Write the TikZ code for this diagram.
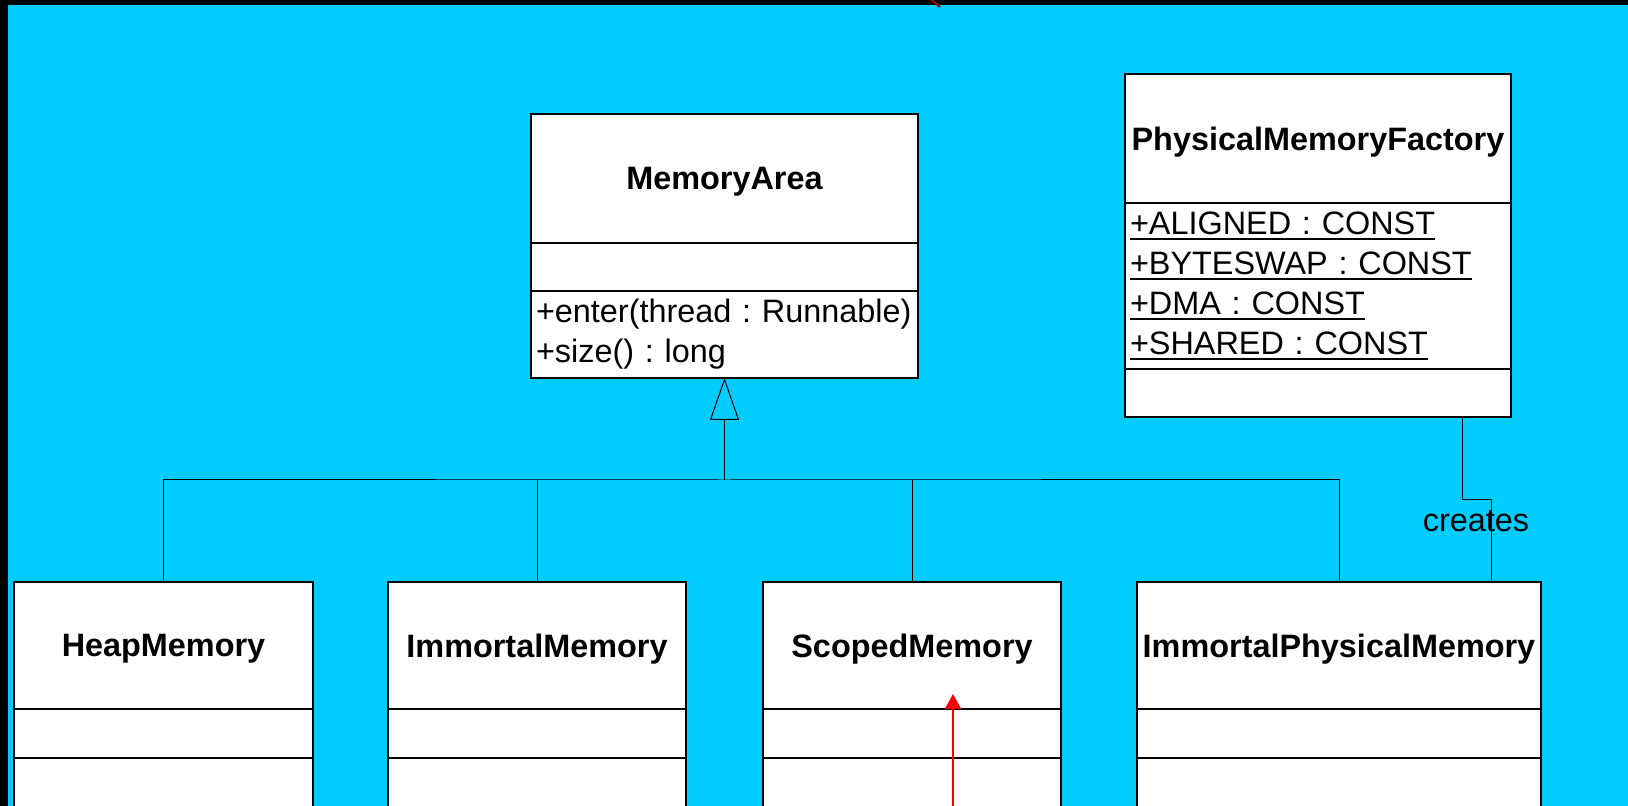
\documentclass[tikz,border=0pt]{standalone}
\usepackage{fontspec}
\setmainfont{Liberation Sans}
\usepackage{tikz}
\usetikzlibrary{arrows.meta, positioning}
\definecolor{slidecyan}{HTML}{00CCFF}
\definecolor{pinred}{HTML}{FF0000}
\frenchspacing

\newcommand{\umlsize}{\fontsize{16.2}{20}\selectfont}
\newcommand{\constline}[1]{\leavevmode\setbox0\hbox{#1}\rlap{\rule[-2.5pt]{\wd0}{1pt}}\box0}

\tikzset{
  classbox/.style={draw, fill=white, line width=1pt, inner sep=0pt, outer sep=0pt, anchor=north west},
  classname/.style={classbox, font=\bfseries\umlsize, text depth=0pt},
  classpart/.style={classbox, font=\umlsize\frenchspacing, align=left, inner xsep=2.5pt},
  inherit/.style={line width=0.5pt, -{Triangle[open, length=21pt, width=14.5pt]}},
  assoc/.style={line width=0.5pt},
  pointer/.style={pinred, line width=1pt, -{Triangle[length=7.5pt, width=8pt]}},
}

\begin{document}
\begin{tikzpicture}[x=0.5pt, y=-0.5pt]
            \useasboundingbox (0, 0) rectangle (1628, 806);
            \clip (0, 0) rectangle (1628, 806);
            \fill[black] (0, 0) rectangle (1628, 806);
            \fill[slidecyan] (8, 5) rectangle (1628, 806);

            \node[classname, minimum width=193.5pt, minimum height=64.5pt] at (531, 114) (ma) {MemoryArea};
            \node[classpart, minimum width=193.5pt, minimum height=24pt] at (ma.south west) (ma-attr) {};
            \node[classpart, minimum width=193.5pt, minimum height=43.5pt, text width=188.5pt] at (ma-attr.south west) (ma-ops) {+enter(thread : Runnable)\\+size() : long};

            \node[classname, minimum width=193pt, minimum height=64.5pt] at (1125, 74) (pmf) {PhysicalMemoryFactory};
            \node[classpart, minimum width=193pt, minimum height=83pt, text width=188pt] at (pmf.south west) (pmf-attr) {\constline{+ALIGNED : CONST}\\\constline{+BYTESWAP : CONST}\\\constline{+DMA : CONST}\\\constline{+SHARED : CONST}};
            \node[classpart, minimum width=193pt, minimum height=24pt] at (pmf-attr.south west) (pmf-ops) {};

            \node[classname, minimum width=149.5pt, minimum height=63.5pt] at (14, 582) (heap) {HeapMemory};
            \node[classpart, minimum width=149.5pt, minimum height=24.5pt] at (heap.south west) (heap-attr) {};
            \node[classpart, minimum width=149.5pt, minimum height=40pt] at (heap-attr.south west) (heap-ops) {};

            \node[classname, minimum width=149pt, minimum height=63.5pt] at (388, 582) (imm) {ImmortalMemory};
            \node[classpart, minimum width=149pt, minimum height=24.5pt] at (imm.south west) (imm-attr) {};
            \node[classpart, minimum width=149pt, minimum height=40pt] at (imm-attr.south west) (imm-ops) {};

            \node[classname, minimum width=149pt, minimum height=63.5pt] at (763, 582) (scm) {ScopedMemory};
            \node[classpart, minimum width=149pt, minimum height=24.5pt] at (scm.south west) (scm-attr) {};
            \node[classpart, minimum width=149pt, minimum height=40pt] at (scm-attr.south west) (scm-ops) {};

            \node[classname, minimum width=202pt, minimum height=63.5pt] at (1137, 582) (ipm) {ImmortalPhysicalMemory};
            \node[classpart, minimum width=202pt, minimum height=24.5pt] at (ipm.south west) (ipm-attr) {};
            \node[classpart, minimum width=202pt, minimum height=40pt] at (ipm-attr.south west) (ipm-ops) {};

            \coordinate (join) at (ma-ops.south |- 0,480);
            \draw[assoc] (heap.north) |- (join) -| (ipm.north);
            \draw[assoc] (imm.north) -- (imm.north |- join);\draw[assoc] (scm.north) -- (scm.north |- join);
            \draw[inherit] (join) -- (ma-ops.south);

            \draw[assoc] (pmf-ops.south -| 1462,0) |- (1491, 500) -- (ipm.north -| 1491,0);
            \node[font=\umlsize, inner sep=0pt] at (1476, 521) (creates) {creates};

            \coordinate (pin-foot) at (953, 830);
            \coordinate (pin-tip) at (953, 694);
            \draw[pointer] (pin-foot) -- (pin-tip);
            \draw[pinred!60!black, line width=1pt] (929, -2) -- (940, 7);
        \end{tikzpicture}
\end{document}
